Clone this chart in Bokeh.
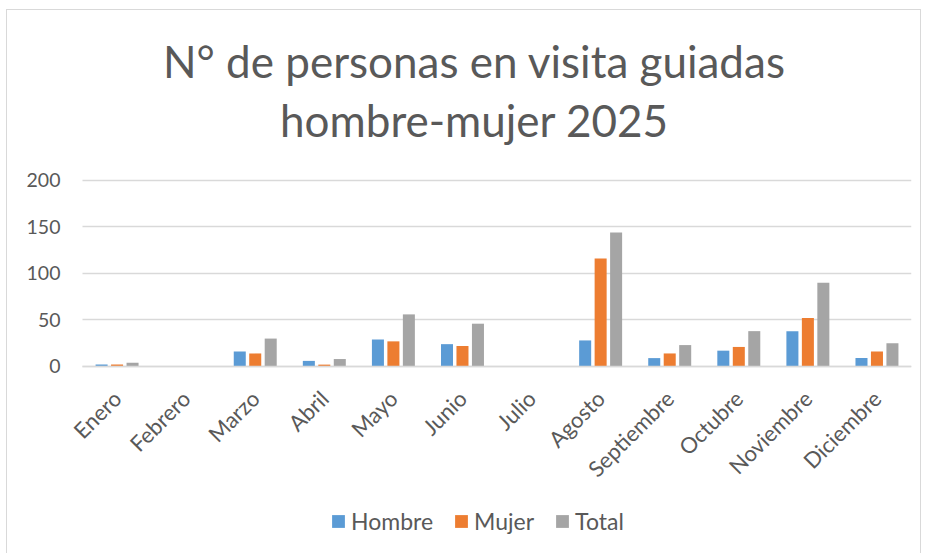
from bokeh.plotting import figure
from bokeh.models import (Range1d, FixedTicker, Legend, LegendItem, ColumnDataSource,
                          Label, Grid)
from bokeh.transform import dodge
from bokeh.embed import file_html
from bokeh.resources import INLINE
import math

months = ["Enero", "Febrero", "Marzo", "Abril", "Mayo", "Junio", "Julio",
          "Agosto", "Septiembre", "Octubre", "Noviembre", "Diciembre"]
hombre = [2, 0, 16, 6, 29, 24, 0, 28, 9, 17, 38, 9]
mujer = [2, 0, 14, 2, 27, 22, 0, 116, 14, 21, 52, 16]
total = [4, 0, 30, 8, 56, 46, 0, 144, 23, 38, 90, 25]
y_ticks = [0, 50, 100, 150, 200]
series_names = ["Hombre", "Mujer", "Total"]
title_line1 = "N° de personas en visita guiadas"
title_line2 = "hombre-mujer 2025"

FONT = "Lato"
TXT = "#595959"
GRID = "#D9D9D9"
colors = ["#5B9BD5", "#ED7D31", "#A5A5A5"]

xpos = list(range(len(months)))
src = ColumnDataSource(dict(x=xpos, month=months, hombre=hombre, mujer=mujer, total=total))
n = len(months)

p = figure(width=915, height=544, title=None,
           x_range=Range1d(-0.79, n - 0.5), y_range=Range1d(-202.2, 382.8),
           output_backend="svg", toolbar_location=None,
           min_border_left=55, min_border_right=11, min_border_top=0, min_border_bottom=0)
p.styles = {"border-top": f"1px solid {GRID}", "border-left": f"1px solid {GRID}",
            "border-right": f"1px solid {GRID}", "box-sizing": "border-box",
            "margin-left": "6px", "margin-top": "9px"}
p.outline_line_color = None

fields = ["hombre", "mujer", "total"]
offs = [-0.224, 0.0, 0.224]
rs = []
for f, c, o in zip(fields, colors, offs):
    r = p.vbar(x=dodge("x", o), top=f, bottom=0, width=0.174,
               source=src, fill_color=c, line_color=None)
    rs.append(r)

# grid
p.xgrid.grid_line_color = None
p.ygrid.ticker = FixedTicker(ticks=y_ticks)
if "cross_bounds" in Grid.properties():
    p.ygrid.grid_line_color = GRID
    p.ygrid.grid_line_width = 1.3
    p.ygrid.cross_bounds = (-0.5, n - 0.5)
else:
    p.ygrid.grid_line_color = None
    gsrc = ColumnDataSource(dict(y=y_ticks, x0=[-0.5] * len(y_ticks), x1=[n - 0.5] * len(y_ticks)))
    p.segment(x0="x0", x1="x1", y0="y", y1="y", source=gsrc, line_color=GRID, line_width=1.3)

# y axis
p.yaxis.ticker = FixedTicker(ticks=y_ticks)
p.yaxis.axis_line_color = None
p.yaxis.major_tick_line_color = None
p.yaxis.minor_tick_line_color = None
p.yaxis.major_tick_out = 0
p.yaxis.major_label_text_font = FONT
p.yaxis.major_label_text_font_size = "19.5px"
p.yaxis.major_label_text_color = TXT
p.yaxis.major_label_standoff = 2

# x axis
p.xaxis.fixed_location = 0
p.xaxis.ticker = FixedTicker(ticks=xpos)
p.xaxis.major_label_overrides = {i: m for i, m in zip(xpos, months)}
p.xaxis.bounds = (-0.5, n - 0.5)
p.xaxis.axis_line_color = GRID
p.xaxis.axis_line_width = 1.3
p.xaxis.major_tick_line_color = None
p.xaxis.minor_tick_line_color = None
p.xaxis.major_tick_out = 0
p.xaxis.major_label_orientation = math.pi / 4
p.xaxis.major_label_text_font = FONT
p.xaxis.major_label_text_font_size = "22px"
p.xaxis.major_label_text_color = TXT
p.xaxis.major_label_standoff = 28

# title (two centred lines)
for txt, yy in [(title_line1, 494), (title_line2, 435)]:
    p.add_layout(Label(x=412, y=yy, x_units="screen", y_units="screen", text=txt,
                       text_align="center", text_baseline="alphabetic",
                       text_font=FONT, text_font_size="44px", text_color=TXT))

legend = Legend(items=[LegendItem(label=nm, renderers=[r]) for nm, r in zip(series_names, rs)],
                orientation="horizontal", location=(268, 19))
legend.label_text_font = FONT
legend.label_text_font_size = "23px"
legend.label_text_color = TXT
legend.glyph_width = 16
legend.glyph_height = 16
legend.label_standoff = 5
legend.spacing = 20
legend.padding = 10
legend.margin = 0
legend.border_line_color = None
legend.background_fill_alpha = 0
p.add_layout(legend, "center")

open("out.html", "w").write(file_html(p, INLINE))
